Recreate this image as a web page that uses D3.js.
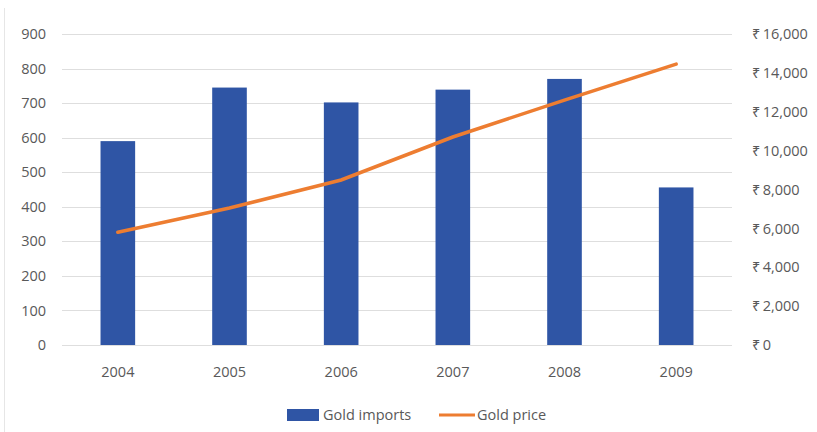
<!DOCTYPE html>
<html>
<head>
<meta charset="utf-8">
<script src="https://cdn.jsdelivr.net/npm/d3@7"></script>
<style>
  body { margin: 0; background: #fff; }
  text { font-family: "Open Sans", "Noto Sans", sans-serif; fill: #595959; }
</style>
</head>
<body>
<div id="chart"></div>
<script>
const years = ["2004", "2005", "2006", "2007", "2008", "2009"];
const imports = [590, 745, 702, 739, 770, 456];
const prices = [5800, 7050, 8490, 10700, 12600, 14450];
const leftTicks = [0, 100, 200, 300, 400, 500, 600, 700, 800, 900];
const rightTicks = [0, 2000, 4000, 6000, 8000, 10000, 12000, 14000, 16000];

const width = 817;
const height = 432;
const margin = { top: 34, right: 85, bottom: 87, left: 62 };
const boundedwidth = width - margin.left - margin.right;
const boundedheight = height - margin.top - margin.bottom;

const svg = d3.select("#chart").append("svg")
    .attr("width", width)
    .attr("height", height);

// faint page edge on the left
svg.append("line")
    .attr("x1", 4.5).attr("x2", 4.5)
    .attr("y1", 8).attr("y2", height)
    .attr("stroke", "#e6e6e6");

const g = svg.append("g")
    .attr("transform", `translate(${margin.left},${margin.top})`);

const xScale = d3.scaleBand().domain(years).range([0, boundedwidth]).paddingInner(0.69).paddingOuter(0.345);
const yLeft = d3.scaleLinear().domain([0, 900]).range([boundedheight, 0]);
const yRight = d3.scaleLinear().domain([0, 16000]).range([boundedheight, 0]);

// gridlines
g.selectAll(".grid").data(leftTicks).join("line")
    .attr("class", "grid")
    .attr("x1", 0).attr("x2", boundedwidth)
    .attr("y1", d => Math.round(yLeft(d)) + 0.5)
    .attr("y2", d => Math.round(yLeft(d)) + 0.5)
    .attr("stroke", "#dedede")
    .attr("stroke-width", 1);

// left axis
const leftAxis = g.append("g")
    .call(d3.axisLeft(yLeft).tickValues(leftTicks).tickSize(0).tickPadding(16));
leftAxis.select(".domain").remove();
leftAxis.selectAll("text").attr("font-size", 14.5).style("fill", "#595959");

// right axis
const rupee = d => "\u20B9" + "\u2009" + d3.format(",")(d);
const rightAxis = g.append("g")
    .attr("transform", `translate(${boundedwidth},0)`)
    .call(d3.axisRight(yRight).tickValues(rightTicks).tickFormat(rupee).tickSize(0).tickPadding(20));
rightAxis.select(".domain").remove();
rightAxis.selectAll("text").attr("font-size", 14.5).style("fill", "#595959");

// bottom axis
const bottomAxis = g.append("g")
    .attr("transform", `translate(0,${boundedheight})`)
    .call(d3.axisBottom(xScale).tickSize(0).tickPadding(22));
bottomAxis.select(".domain").remove();
bottomAxis.selectAll("text").attr("font-size", 14.5).style("fill", "#595959");

// bars
g.selectAll(".bar").data(imports).join("rect")
    .attr("class", "bar")
    .attr("x", (d, i) => xScale(years[i]))
    .attr("y", d => yLeft(d))
    .attr("width", xScale.bandwidth())
    .attr("height", d => yLeft(0) - yLeft(d))
    .attr("fill", "#2f55a5");

// price line
const line = d3.line()
    .x((d, i) => xScale(years[i]) + xScale.bandwidth() / 2)
    .y(d => yRight(d));

g.append("path").datum(prices)
    .attr("fill", "none")
    .attr("stroke", "#ed7d31")
    .attr("stroke-width", 3.5)
    .attr("stroke-linecap", "round")
    .attr("d", line);

// legend
const legend = svg.append("g").attr("transform", "translate(287,415)");
legend.append("rect")
    .attr("x", 0).attr("y", -6)
    .attr("width", 32).attr("height", 12)
    .attr("fill", "#2f55a5");
legend.append("text")
    .attr("x", 36).attr("y", 0)
    .attr("dy", "0.35em")
    .attr("font-size", 14.5)
    .text("Gold imports");
legend.append("line")
    .attr("x1", 152).attr("x2", 188)
    .attr("y1", 0).attr("y2", 0)
    .attr("stroke", "#ed7d31")
    .attr("stroke-width", 3);
legend.append("text")
    .attr("x", 190).attr("y", 0)
    .attr("dy", "0.35em")
    .attr("font-size", 14.5)
    .text("Gold price");
</script>
</body>
</html>
